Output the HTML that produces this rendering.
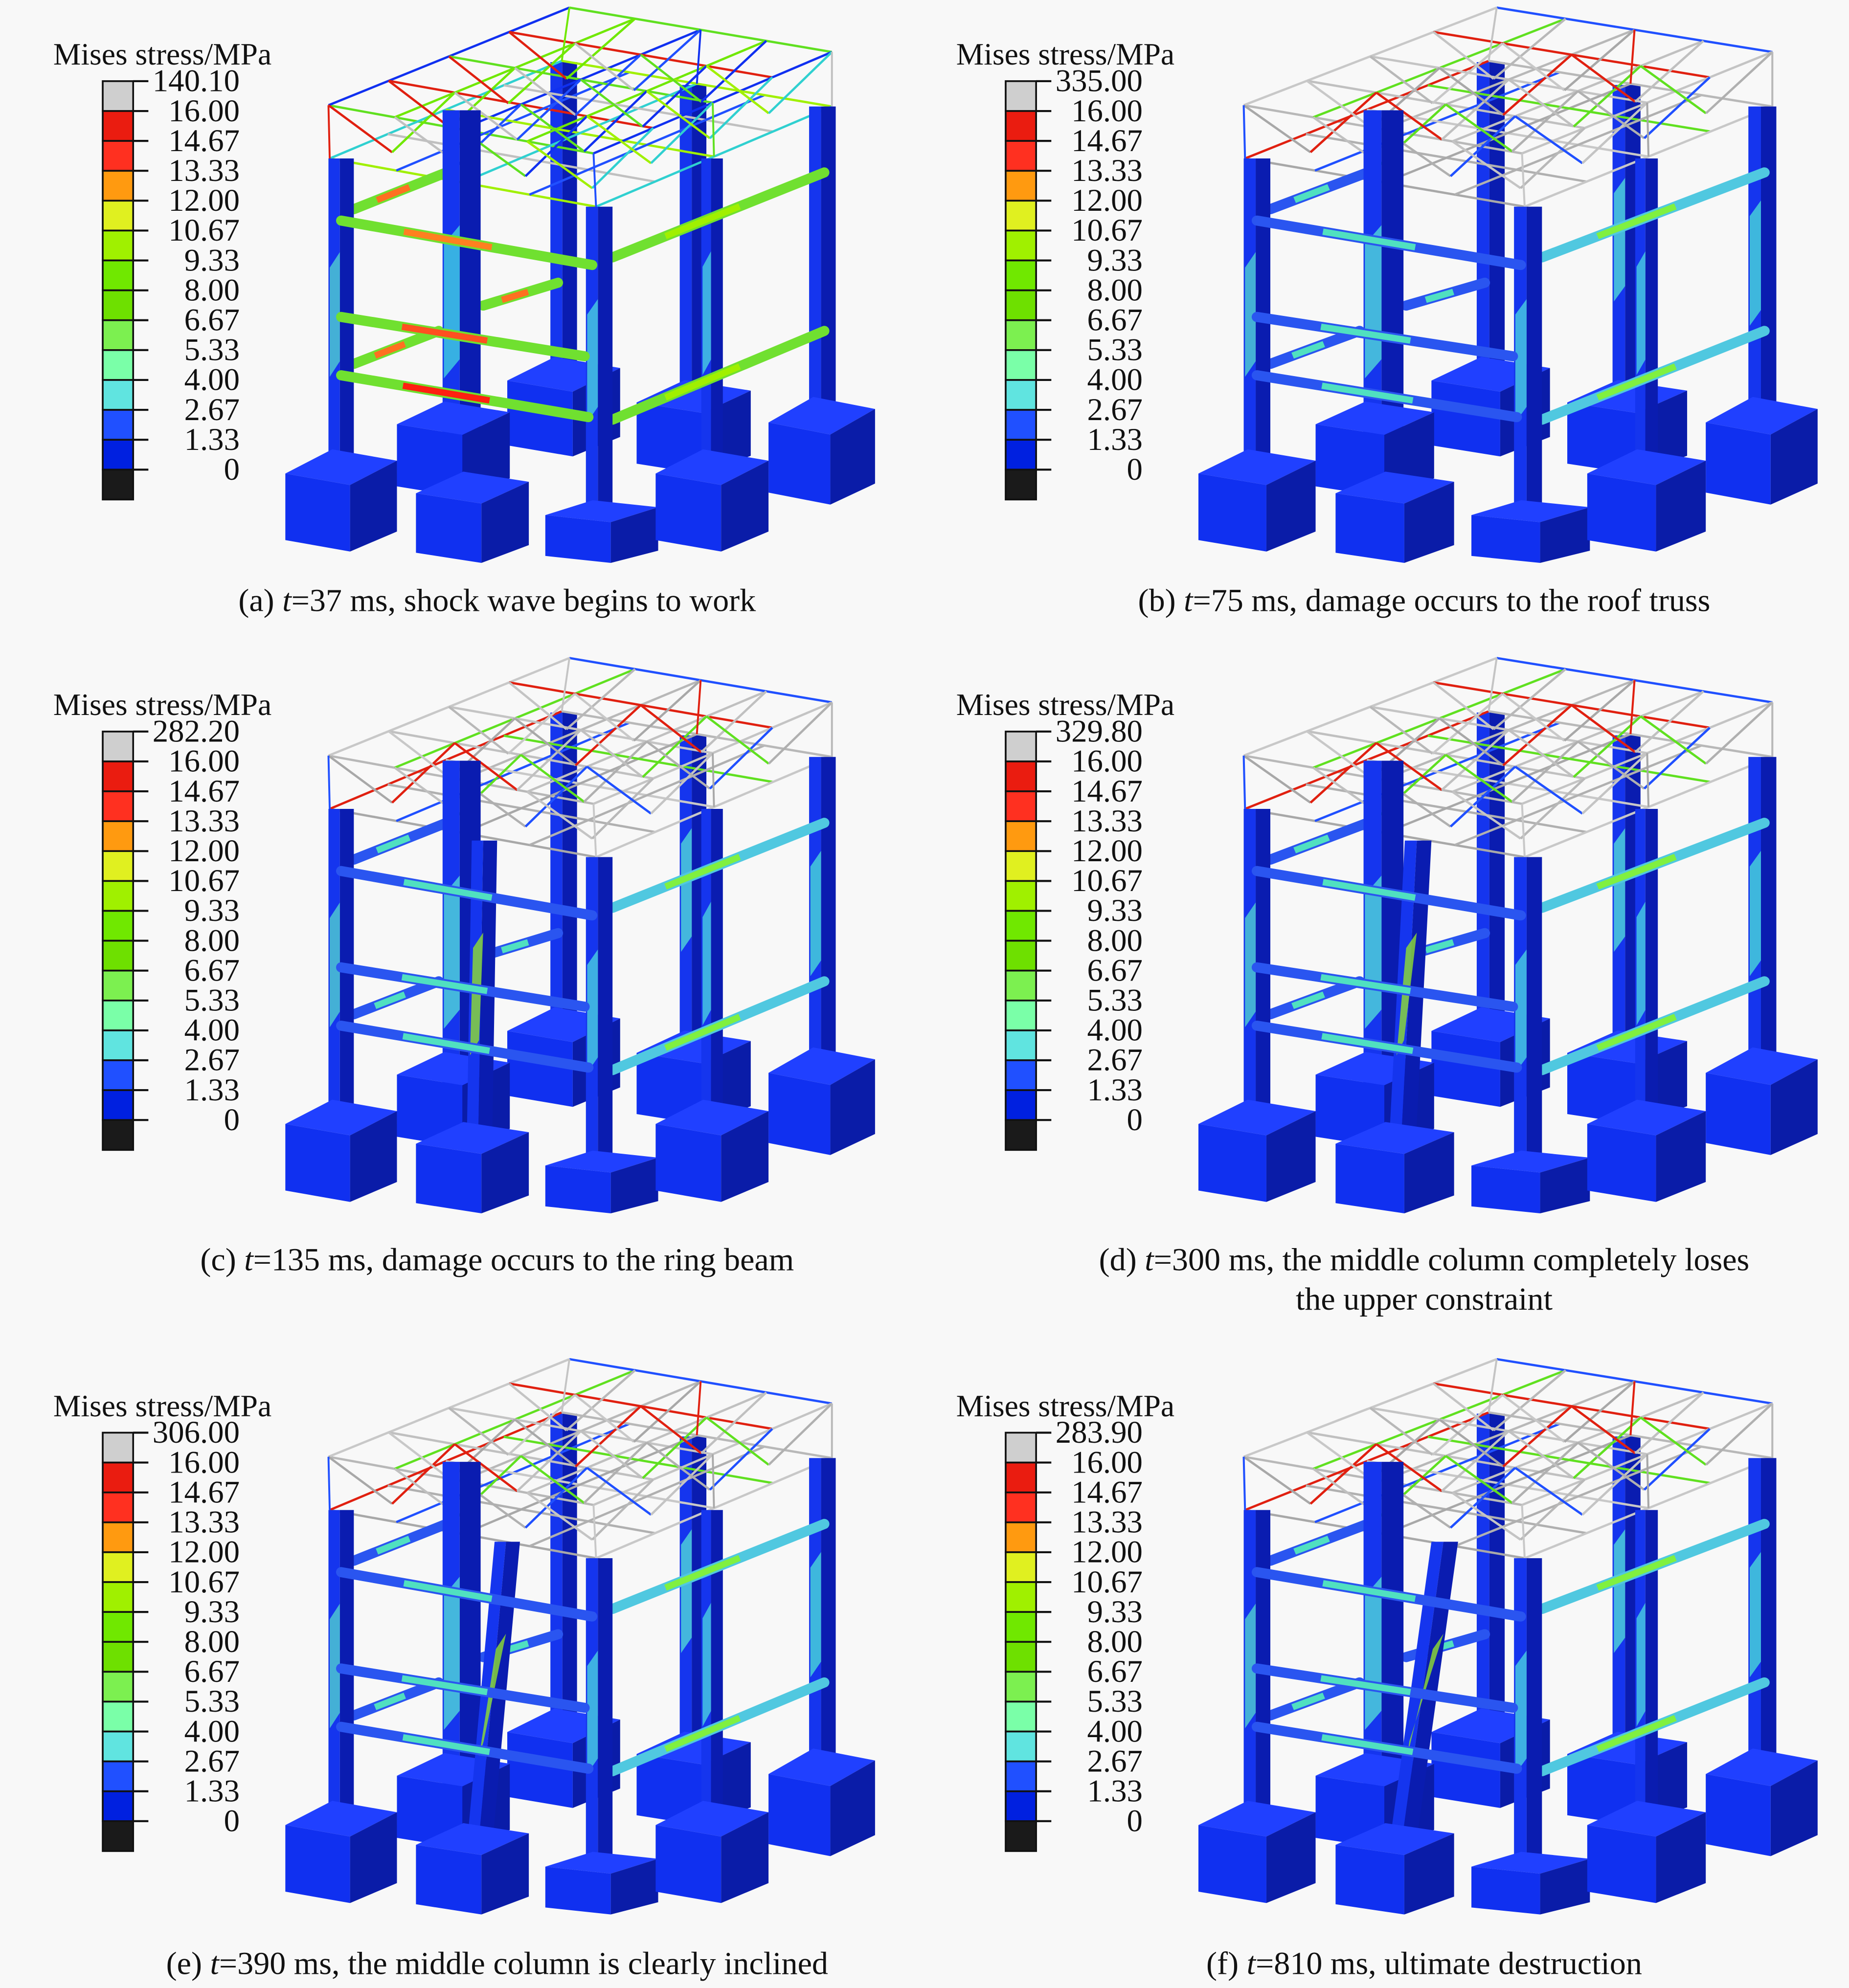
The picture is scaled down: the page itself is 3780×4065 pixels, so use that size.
<!DOCTYPE html>
<html><head><meta charset="utf-8">
<style>
html,body{margin:0;padding:0;background:#f8f8f8;}
svg{display:block;}
</style></head>
<body>
<svg id="fig" width="3780" height="4065" viewBox="0 0 1458 1568" preserveAspectRatio="none" xmlns="http://www.w3.org/2000/svg">
<rect x="0" y="0" width="1458" height="1568" fill="#f8f8f8"/>
</svg>
<script>
// ---- legend data ----
const legendTicks = ["16.00","14.67","13.33","12.00","10.67","9.33","8.00","6.67","5.33","4.00","2.67","1.33","0"];
const legendMax = ["140.10","335.00","282.20","329.80","306.00","283.90"];
const legendColors = ["#cfcfcf","#ea1c10","#ff3020","#ff9a10","#e0f020","#a0f000","#70e800","#6ee000","#7cf050","#7affa8","#60e4e0","#2050ff","#0020e0","#1a1a1a"];
const panelLetters = ["a","b","c","d","e","f"];
const panelTimes = ["37","75","135","300","390","810"];
const panelTexts = [" ms, shock wave begins to work"," ms, damage occurs to the roof truss"," ms, damage occurs to the ring beam"," ms, the middle column completely loses"," ms, the middle column is clearly inclined"," ms, ultimate destruction"];

const NS="http://www.w3.org/2000/svg";
const FONT='"Liberation Serif", "Times New Roman", serif';
const svg=document.getElementById('fig');
function mk(tag,attrs,parent){const e=document.createElementNS(NS,tag);for(const k in attrs)e.setAttribute(k,attrs[k]);(parent||svg).appendChild(e);return e;}

const offsets=[[0,0],[712,0],[0,513],[712,513],[0,1066],[712,1066]];

function drawLegend(g,idx){
  const t=mk('text',{x:42,y:51,'font-size':24.5,'font-family':FONT,fill:'#111'},g);
  t.textContent="Mises stress/MPa";
  
  
  const x0=81,w=24,top=64,h=23.57;
  const labels=[legendMax[idx]].concat(legendTicks);
  legendColors.forEach((c,i)=>{
    const r=mk('rect',{x:x0,y:top+i*h,width:w,height:h,fill:c,stroke:'#111','stroke-width':1.4},g);
    
    
  });
  labels.forEach((l,i)=>{
    const y=top+i*h;
    mk('line',{x1:x0+w,y1:y,x2:x0+w+12,y2:y,stroke:'#111','stroke-width':1.6},g);
    const tx=mk('text',{x:189,y:y+8,'font-size':25,'text-anchor':'end','font-family':FONT,fill:'#111'},g);
    tx.textContent=l;
    
    
  });
}

function block(g,x,y,w,h){
  const d=h*0.3, sp=w*0.58;
  mk('polygon',{points:`${x},${y+d*0.6} ${x+sp},${y+d} ${x+w},${y+d*0.15} ${x+w-sp},${y-d*0.25}`,fill:'#2040ff'},g);
  mk('polygon',{points:`${x},${y+d*0.6} ${x+sp},${y+d} ${x+sp},${y+h} ${x},${y+h-d*0.4}`,fill:'#1030f0'},g);
  mk('polygon',{points:`${x+sp},${y+d} ${x+w},${y+d*0.15} ${x+w},${y+h-d*0.7} ${x+sp},${y+h}`,fill:'#0a1ca8'},g);
}
function column(g,x1,y1,x2,y2,w,accent){
  mk('polygon',{points:`${x1},${y1} ${x1+w*0.45},${y1} ${x2+w*0.45},${y2} ${x2},${y2}`,fill:'#1535ee'},g);
  mk('polygon',{points:`${x1+w*0.45},${y1} ${x1+w},${y1} ${x2+w},${y2} ${x2+w*0.45},${y2}`,fill:'#0a1cb0'},g);
  if(accent) mk('polygon',{points:`${x1+1},${y1+(y2-y1)*0.35} ${x1+w*0.45},${y1+(y2-y1)*0.3} ${x2+w*0.45-(x2-x1)*0.2},${y1+(y2-y1)*0.65} ${x1+1+(x2-x1)*0.6},${y1+(y2-y1)*0.7}`,fill:accent,opacity:0.8},g);
}
function beam(g,x1,y1,x2,y2,c1,c2){
  mk('line',{x1,y1,x2,y2,stroke:c1,'stroke-width':8,'stroke-linecap':'round'},g);
  mk('line',{x1:x1+(x2-x1)*0.25,y1:y1+(y2-y1)*0.25,x2:x1+(x2-x1)*0.6,y2:y1+(y2-y1)*0.6,stroke:c2,'stroke-width':5},g);
}
function lerp(a,b,t){return [a[0]+(b[0]-a[0])*t,a[1]+(b[1]-a[1])*t];}
function quad(P,u,v){return lerp(lerp(P[0],P[1],u),lerp(P[3],P[2],u),v);}

function drawTruss(g,pal){
  const T=[[259,83],[449,6],[656,41],[468,121]];
  const B=[[260,125],[443,48],[656,84],[470,163]];
  let k=0;
  const n=4;
  function ln(a,b,w){mk('line',{x1:a[0],y1:a[1],x2:b[0],y2:b[1],stroke:pal[k++%pal.length],'stroke-width':w||1.8},g);}
  for(let i=0;i<=n;i++){
    ln(quad(T,i/n,0),quad(T,i/n,1));ln(quad(T,0,i/n),quad(T,1,i/n));
    ln(quad(B,i/n,0),quad(B,i/n,1));ln(quad(B,0,i/n),quad(B,1,i/n));
  }
  for(let i=0;i<n;i++)for(let j=0;j<n;j++){
    ln(quad(T,i/n,j/n),quad(B,(i+0.5)/n,(j+0.5)/n));
    ln(quad(T,(i+1)/n,(j+1)/n),quad(B,(i+0.5)/n,(j+0.5)/n));
  }
  [[0,0],[1,0],[1,1],[0,1],[0.5,1],[1,0.5]].forEach(p=>ln(quad(T,p[0],p[1]),quad(B,p[0],p[1]),1.5));
}

function drawStructure(g,idx){
  const early=idx===0;
  const trussPal=early?["#60e020","#1030f0","#a0f000","#30d0d0","#e02010","#70e800","#c0c0c0","#2050ff"]:["#b8b8b8","#c8c8c8","#a8a8a8","#e02010","#c0c0c0","#60e020","#b0b0b0","#2050ff","#c4c4c4"];
  column(g,434,49,434,296,21);
  column(g,536,67,536,311,21,idx>0?'#50d8d8':null);
  block(g,400,287,89,73);
  block(g,502,305,90,69);
  drawTruss(g,trussPal);
  const bc=early?['#70e030','#ff7020']:['#2a55f0','#50e0c0'];
  beam(g,279,165,352,136,bc[0],bc[1]);
  beam(g,381,241,440,223,bc[0],bc[1]);
  beam(g,279,287,346,261,bc[0],bc[1]);
  column(g,349,87,349,389,30,idx>0?'#50d8d8':'#40d0e0');
  column(g,553,125,553,369,17,'#48d0e0');
  column(g,638,84,638,331,21,idx>0?'#48d8d8':null);
  block(g,313,322,89,70);
  block(g,606,319,84,79);
  beam(g,483,203,650,136,early?'#70e030':'#50c8e0',early?'#a0f000':'#80f040');
  beam(g,483,331,650,261,early?'#70e030':'#50c8e0',early?'#a0f000':'#80f040');
  column(g,259,125,259,371,20,'#50d0d0');
  column(g,462,163,462,406,21,'#48d0e0');
  if(idx>=2){
    const tilt=[0,0,0,8,18,28][idx];
    column(g,372+tilt,150,368,392,20,'#90e030');
  }
  beam(g,269,174,467,209,bc[0],early?'#ff8020':bc[1]);
  beam(g,269,250,461,281,bc[0],early?'#ff5020':bc[1]);
  beam(g,269,296,464,329,bc[0],early?'#ff2010':bc[1]);
  block(g,225,360,88,75);
  block(g,328,377,89,67);
  block(g,430,398,89,46);
  block(g,517,360,89,75);
}

function drawCaption(g,idx,cx,y){
  const t=mk('text',{x:cx,y:y,'font-size':25.5,'text-anchor':'middle','font-family':FONT,fill:'#111'},g);
  
  
  const a=mk('tspan',{},t);a.textContent="("+panelLetters[idx]+") ";
  const b=mk('tspan',{'font-style':'italic'},t);b.textContent="t";
  const c=mk('tspan',{},t);c.textContent="="+panelTimes[idx]+panelTexts[idx];
  if(idx===3){
    const t2=mk('text',{x:cx,y:y+31,'font-size':25.5,'text-anchor':'middle','font-family':FONT,fill:'#111'},g);
    t2.textContent="the upper constraint";
    
    
  }
}

offsets.forEach((o,idx)=>{
  const g=mk('g',{transform:`translate(${o[0]},${o[1]})`});
  
  
  drawLegend(g,idx);
  const right=o[0]>0;
  const sg=mk('g',{transform:right?'translate(233,0) scale(1.05,1.0) translate(-225,0)':'translate(0,0)'},g);
  
  
  drawStructure(sg,idx);
  const capY=[482,482,1002-513,1002-513,1557-1066,1557-1066][idx];
  drawCaption(g,idx,right?411:392,capY);
});
</script>
</body></html>
